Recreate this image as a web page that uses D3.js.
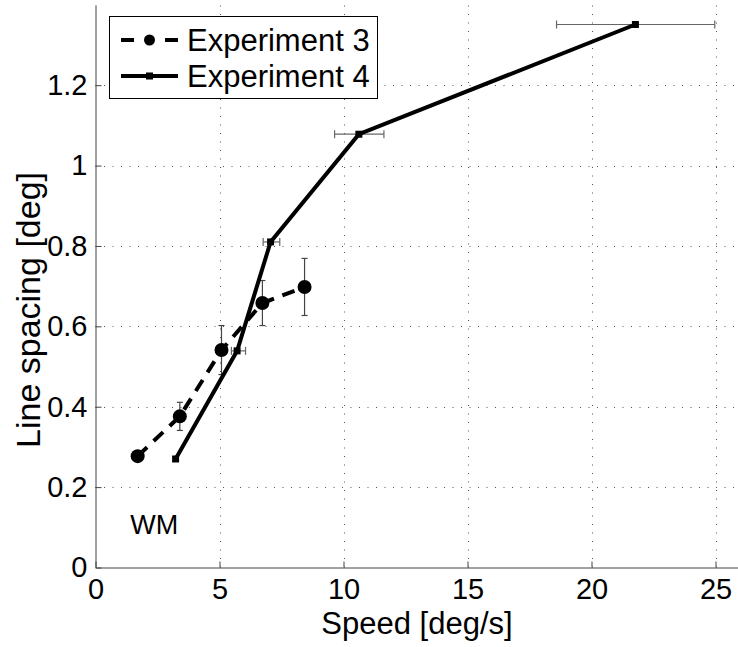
<!DOCTYPE html>
<html>
<head>
<meta charset="utf-8">
<script src="https://cdn.jsdelivr.net/npm/d3@7"></script>
<style>
  body { margin: 0; background: #fff; }
  svg { display: block; font-family: "Liberation Sans", Arial, sans-serif; }
  .axis text { font-size: 29px; fill: #000; }
</style>
</head>
<body>
<div id="chart"></div>
<script>
var svgWidth = 738;
var svgHeight = 647;

// Experiment 3: dashed line, filled circles, vertical error bars
var exp3Speed = [1.7, 3.4, 5.08, 6.73, 8.43];
var exp3Spacing = [0.277, 0.376, 0.541, 0.658, 0.698];
var exp3SpacingErr = [0, 0.035, 0.061, 0.056, 0.071];

// Experiment 4: solid line, small square markers, horizontal error bars
var exp4Speed = [3.23, 5.71, 7.06, 10.62, 21.77];
var exp4Spacing = [0.27, 0.539, 0.81, 1.078, 1.351];
var exp4SpeedLo = [3.23, 5.48, 6.76, 9.64, 18.59];
var exp4SpeedHi = [3.23, 6.05, 7.43, 11.63, 24.97];

var xTicks = [0, 5, 10, 15, 20, 25];
var yTicks = [0, 0.2, 0.4, 0.6, 0.8, 1, 1.2];
var seriesNames = ["Experiment 3", "Experiment 4"];

var exp3 = exp3Speed.map((s, i) => ({x: s, y: exp3Spacing[i], e: exp3SpacingErr[i]}));
var exp4 = exp4Speed.map((s, i) => ({x: s, y: exp4Spacing[i], lo: exp4SpeedLo[i], hi: exp4SpeedHi[i]}));

var svg = d3.select("#chart")
  .append("svg")
  .attr("width", svgWidth)
  .attr("height", svgHeight);

var xScale = d3.scaleLinear().domain([0, 26]).range([95.5, 95.5 + 26 * 24.8]);
var yScale = d3.scaleLinear().domain([0, 1.4]).range([567.5, 4.8]);

// dotted grid
svg.append("g").selectAll("line")
  .data(xTicks.filter(d => d > 0))
  .enter().append("line")
  .attr("x1", d => Math.round(xScale(d)) + 0.5)
  .attr("x2", d => Math.round(xScale(d)) + 0.5)
  .attr("y1", yScale(0))
  .attr("y2", yScale(1.4))
  .attr("stroke", "#555")
  .attr("stroke-dasharray", "1,7.5");

svg.append("g").selectAll("line")
  .data(yTicks.filter(d => d > 0))
  .enter().append("line")
  .attr("x1", xScale(0))
  .attr("x2", xScale(26))
  .attr("y1", d => Math.round(yScale(d)) + 0.5)
  .attr("y2", d => Math.round(yScale(d)) + 0.5)
  .attr("stroke", "#555")
  .attr("stroke-dasharray", "1,7.5");

// axes (ticks point inward, no box)
var xAxis = d3.axisBottom(xScale).tickValues(xTicks).tickSizeInner(-6).tickSizeOuter(0).tickPadding(11);
var yAxis = d3.axisLeft(yScale).tickValues(yTicks).tickSizeInner(-6).tickSizeOuter(0).tickPadding(8)
  .tickFormat(d => d3.format("~g")(d));

svg.append("g")
  .attr("class", "axis")
  .attr("transform", `translate(0, ${yScale(0)})`)
  .call(xAxis)
  .call(g => g.selectAll("path, line").attr("stroke", "#444"));

svg.append("g")
  .attr("class", "axis")
  .attr("transform", `translate(${xScale(0)}, 0)`)
  .call(yAxis)
  .call(g => g.selectAll("path, line").attr("stroke", "#444"));

// Experiment 4 horizontal error bars
var eb4 = svg.append("g").attr("stroke", "#666").attr("stroke-width", 1.2);
exp4.filter(d => d.hi > d.lo).forEach(function(d) {
  var yy = yScale(d.y);
  eb4.append("line").attr("x1", xScale(d.lo)).attr("x2", xScale(d.hi)).attr("y1", yy).attr("y2", yy);
  eb4.append("line").attr("x1", xScale(d.lo)).attr("x2", xScale(d.lo)).attr("y1", yy - 4).attr("y2", yy + 4);
  eb4.append("line").attr("x1", xScale(d.hi)).attr("x2", xScale(d.hi)).attr("y1", yy - 4).attr("y2", yy + 4);
});

// Experiment 3 vertical error bars
var eb3 = svg.append("g").attr("stroke", "#444").attr("stroke-width", 1.2);
exp3.filter(d => d.e > 0).forEach(function(d) {
  var xx = xScale(d.x);
  eb3.append("line").attr("x1", xx).attr("x2", xx).attr("y1", yScale(d.y - d.e)).attr("y2", yScale(d.y + d.e));
  eb3.append("line").attr("x1", xx - 3).attr("x2", xx + 3).attr("y1", yScale(d.y - d.e)).attr("y2", yScale(d.y - d.e));
  eb3.append("line").attr("x1", xx - 3).attr("x2", xx + 3).attr("y1", yScale(d.y + d.e)).attr("y2", yScale(d.y + d.e));
});

var line = d3.line().x(d => xScale(d.x)).y(d => yScale(d.y));

svg.append("path")
  .datum(exp3)
  .attr("d", line)
  .attr("fill", "none")
  .attr("stroke", "#000")
  .attr("stroke-width", 4)
  .attr("stroke-dasharray", "13,9");

svg.append("path")
  .datum(exp4)
  .attr("d", line)
  .attr("fill", "none")
  .attr("stroke", "#000")
  .attr("stroke-width", 4);

svg.append("g").selectAll("circle")
  .data(exp3)
  .enter().append("circle")
  .attr("cx", d => xScale(d.x))
  .attr("cy", d => yScale(d.y))
  .attr("r", 7)
  .attr("fill", "#000");

svg.append("g").selectAll("rect")
  .data(exp4)
  .enter().append("rect")
  .attr("x", d => xScale(d.x) - 3.5)
  .attr("y", d => yScale(d.y) - 3.5)
  .attr("width", 7)
  .attr("height", 7)
  .attr("fill", "#000");

// axis labels
svg.append("text")
  .attr("x", 417)
  .attr("y", 634)
  .attr("text-anchor", "middle")
  .attr("font-size", 31)
  .text("Speed [deg/s]");

svg.append("text")
  .attr("transform", "translate(40, 310) rotate(-90)")
  .attr("text-anchor", "middle")
  .attr("font-size", 34)
  .text("Line spacing [deg]");

svg.append("text")
  .attr("x", xScale(1.4))
  .attr("y", yScale(0.083))
  .attr("font-size", 27)
  .text("WM");

// legend
var legend = svg.append("g");
legend.append("rect")
  .attr("x", 109.5).attr("y", 16.5)
  .attr("width", 268).attr("height", 82)
  .attr("fill", "#fff").attr("stroke", "#000");

var rowY = [40, 76];
seriesNames.forEach(function(name, i) {
  var g = legend.append("g").attr("transform", `translate(0, ${rowY[i]})`);
  if (i === 0) {
    g.append("line").attr("x1", 121).attr("x2", 134).attr("y1", 0).attr("y2", 0)
      .attr("stroke", "#000").attr("stroke-width", 4);
    g.append("line").attr("x1", 165).attr("x2", 178).attr("y1", 0).attr("y2", 0)
      .attr("stroke", "#000").attr("stroke-width", 4);
    g.append("circle").attr("cx", 149.5).attr("cy", 0).attr("r", 5.5).attr("fill", "#000");
  } else {
    g.append("line").attr("x1", 121).attr("x2", 178).attr("y1", 0).attr("y2", 0)
      .attr("stroke", "#000").attr("stroke-width", 4);
    g.append("rect").attr("x", 146).attr("y", -3.5).attr("width", 7).attr("height", 7).attr("fill", "#000");
  }
  g.append("text")
    .attr("x", 187).attr("y", 0).attr("dy", "0.36em")
    .attr("font-size", 31)
    .text(name);
});
</script>
</body>
</html>
